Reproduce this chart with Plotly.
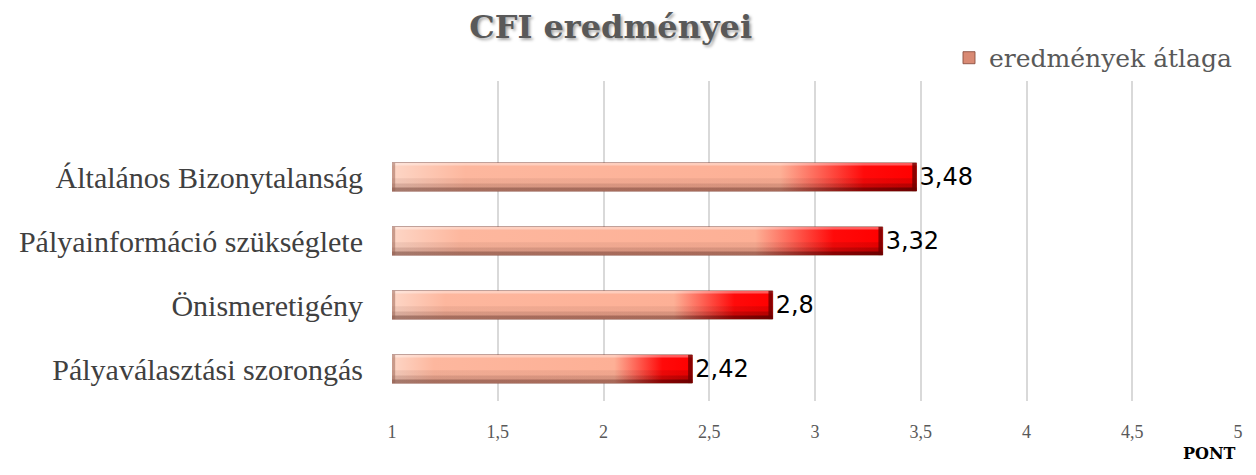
import plotly.graph_objects as go

# ---- data ----
categories = ["Általános Bizonytalanság", "Pályainformáció szükséglete",
              "Önismeretigény", "Pályaválasztási szorongás"]
values = [3.48, 3.32, 2.8, 2.42]
value_labels = [str(v).replace(".", ",") for v in values]
series_name = "eredmények átlaga"
x_ticks = [1, 1.5, 2, 2.5, 3, 3.5, 4, 4.5, 5]

X_MIN, X_MAX = 1, 5
BAR_W = 0.44
positions = [len(categories) - 1 - i for i in range(len(categories))]

fig = go.Figure()

# main bars (data marks, legend)
fig.add_trace(go.Bar(
    x=values, y=positions, orientation="h", width=BAR_W,
    name=series_name,
    marker=dict(color="#D98A74", line=dict(color="rgba(140,80,65,0.9)", width=1)),
    text=value_labels, textposition="outside", constraintext="none",
    textfont=dict(family="DejaVu Sans", size=24, color="#000000"),
    cliponaxis=True, showlegend=True,
))

h = BAR_W / 2
main_scale = [[0, "#FDD6C6"], [0.14, "#FDB79E"], [0.74, "#FDB096"],
              [0.9, "#FF0A0A"], [1, "#FF0000"]]
bottom_scale = [[0, "rgba(105,60,50,0.45)"], [0.74, "rgba(110,55,45,0.45)"],
                [0.9, "rgba(110,0,0,0.7)"], [1, "rgba(90,0,0,0.8)"]]
mid_scale = [[0, "rgba(120,70,60,0.2)"], [0.74, "rgba(120,70,60,0.2)"],
             [0.9, "rgba(120,0,0,0.3)"], [1, "rgba(100,0,0,0.35)"]]
low_scale = [[0, "rgba(120,70,60,0.1)"], [0.74, "rgba(120,70,60,0.1)"],
             [0.9, "rgba(120,0,0,0.15)"], [1, "rgba(100,0,0,0.18)"]]


def rect(x0, x1, y0, y1):
    return [x0, x1, x1, x0, x0], [y0, y0, y1, y1, y0]


def overlay(xs, ys, **kw):
    fig.add_trace(go.Scatter(x=xs, y=ys, mode="lines", line=dict(width=0),
                             fill="toself", hoverinfo="skip", showlegend=False, **kw))


for v, p in zip(values, positions):
    xs, ys = rect(X_MIN, v, p - h, p + h)
    overlay(xs, ys, fillgradient=dict(type="horizontal", colorscale=main_scale))
    xs, ys = rect(X_MIN, v, p - h, p - h + 0.2)
    overlay(xs, ys, fillgradient=dict(type="horizontal", colorscale=low_scale))
    xs, ys = rect(X_MIN, v, p - h, p - h + 0.12)
    overlay(xs, ys, fillgradient=dict(type="horizontal", colorscale=mid_scale))
    xs, ys = rect(X_MIN, v, p - h, p - h + 0.055)
    overlay(xs, ys, fillgradient=dict(type="horizontal", colorscale=bottom_scale))
    xs, ys = rect(X_MIN, v, p + h - 0.04, p + h)
    overlay(xs, ys, fillcolor="rgba(255,255,255,0.35)")
    xs, ys = rect(v - 0.02, v, p - h, p + h)
    overlay(xs, ys, fillcolor="rgba(110,0,0,0.8)")
    xs, ys = rect(X_MIN, X_MIN + 0.015, p - h, p + h)
    overlay(xs, ys, fillcolor="rgba(150,95,80,0.5)")

# page body adds an 8px offset; compensate so the plot lands where the reference has it
fig.update_layout(
    width=1240, height=459,
    margin=dict(l=384, r=5, t=73, b=66),
    paper_bgcolor="white", plot_bgcolor="white",
    separators=", ",
    title=dict(text="<b>CFI eredményei</b>", x=0.486, xref="container", xanchor="center",
               y=1 - 19 / 459, yref="container", yanchor="middle",
               font=dict(family="DejaVu Serif", size=32, color="#595959",
                         shadow="2px 2px 3px rgba(0,0,0,0.35)")),
    legend=dict(orientation="h", x=1.0, xanchor="right", y=1.072, yanchor="middle",
                font=dict(family="DejaVu Serif", size=25, color="#595959"),
                bgcolor="rgba(0,0,0,0)", itemwidth=30),
    showlegend=True,
    xaxis=dict(range=[X_MIN, X_MAX], tickvals=x_ticks, showgrid=True,
               gridcolor="#D9D9D9", gridwidth=1.5, zeroline=False, showline=False,
               ticks="", ticklabelstandoff=18,
               tickfont=dict(family="Liberation Serif", size=18, color="#595959")),
    yaxis=dict(range=[-0.5, 4.5], tickvals=positions, ticktext=categories,
               showgrid=False, zeroline=False, showline=False, ticks="",
               ticklabelstandoff=28,
               tickfont=dict(family="Liberation Serif", size=30, color="#404040")),
    annotations=[dict(text="<b>PONT</b>", xref="paper", yref="paper", x=1.0, y=-0.2,
                      xanchor="right", yanchor="bottom", showarrow=False,
                      font=dict(family="DejaVu Serif", size=16, color="#000000"))],
)

fig.write_html("out.html")
